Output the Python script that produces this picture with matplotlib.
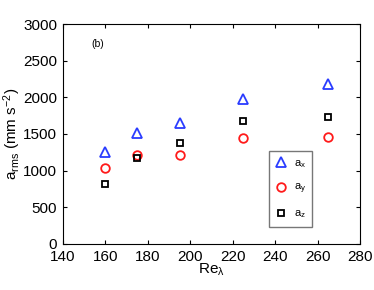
import matplotlib
matplotlib.use("Agg")
import matplotlib.pyplot as plt

# data
re_lambda = [160, 175, 195, 225, 265]
a_x = [1259, 1518, 1654, 1982, 2182]
a_y = [1041, 1210, 1214, 1441, 1459]
a_z = [822, 1173, 1373, 1682, 1732]

plt.rcParams["font.family"] = ["Liberation Sans", "DejaVu Sans"]
plt.rcParams["mathtext.fontset"] = "custom"
plt.rcParams["mathtext.rm"] = "Liberation Sans"
plt.rcParams["mathtext.it"] = "Liberation Sans"

fig = plt.figure(figsize=(3.74, 2.9), dpi=100)
ax = fig.add_axes([0.168, 0.159, 0.795, 0.758])

ax.plot(re_lambda, a_x, linestyle="none", marker="^", markersize=7,
        markerfacecolor="none", markeredgecolor="#2a3cff", markeredgewidth=1.3,
        label=r"a$_\mathregular{x}$")
ax.plot(re_lambda, a_y, linestyle="none", marker="o", markersize=6.2,
        markerfacecolor="none", markeredgecolor="#ff1a1a", markeredgewidth=1.3,
        label=r"a$_\mathregular{y}$")
ax.plot(re_lambda, a_z, linestyle="none", marker="s", markersize=4.6,
        markerfacecolor="none", markeredgecolor="black", markeredgewidth=1.3,
        label=r"a$_\mathregular{z}$")

ax.set_xlim(140, 280)
ax.set_ylim(0, 3000)
ax.set_xticks(range(140, 281, 20))
ax.set_yticks(range(0, 3001, 500))
ax.tick_params(direction="in", top=True, right=True, labelsize=11, length=3)
ax.tick_params(axis="x", pad=4.5)
ax.tick_params(axis="y", pad=4)

ax.set_xlabel(r"Re$_\mathregular{\lambda}$", fontsize=11, labelpad=-1.5)
ax.set_ylabel(r"a$_\mathregular{rms}$ (mm s$^\mathregular{-2}$)", fontsize=11, labelpad=0)

ax.text(153.5, 2690, "(b)", fontsize=7.5)

leg = ax.legend(loc="lower left", bbox_to_anchor=(0.694, 0.077), borderaxespad=0,
                fontsize=8, frameon=True, fancybox=False, handletextpad=0.6,
                labelspacing=1.1, borderpad=0.6, handlelength=1.0)
leg.get_frame().set_edgecolor("#555555")
leg.get_frame().set_linewidth(1.0)

plt.savefig("out.png", dpi=100)
